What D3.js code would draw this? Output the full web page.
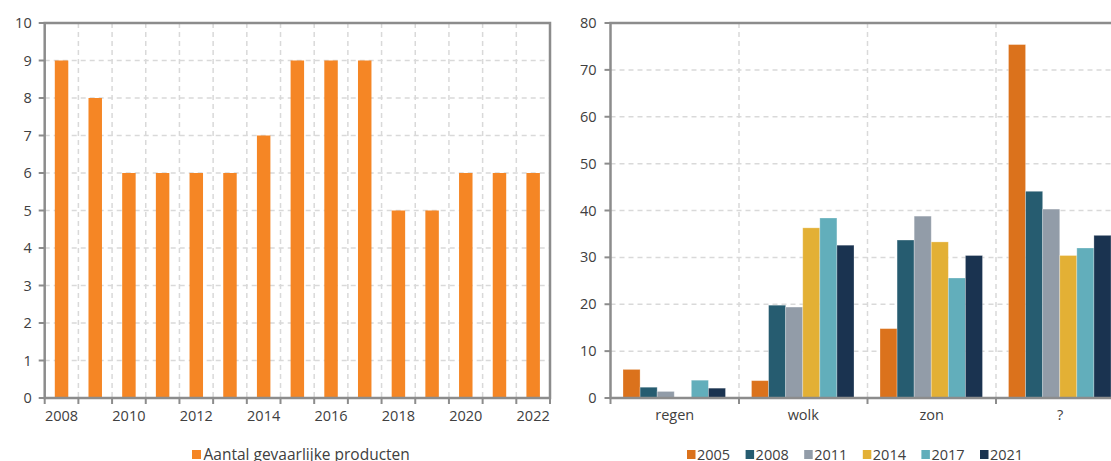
<!DOCTYPE html>
<html>
<head>
<meta charset="utf-8" />
<title>gevaarlijke producten</title>
<script src="https://cdn.jsdelivr.net/npm/d3@7"></script>
<style>
  html, body { margin: 0; padding: 0; background: #fff; }
  svg { display: block; font-family: "Open Sans", sans-serif; font-size: 14.5px; }
  .grid line { stroke: #d9d9d9; stroke-width: 1.5px; stroke-dasharray: 5,4; }
  .frame { fill: none; stroke: #8c8c8c; stroke-width: 2.5px; }
  .tick-mark { stroke: #8c8c8c; stroke-width: 2px; }
  text { fill: #404040; }
</style>
</head>
<body>
<svg id="chart" width="1111" height="461"></svg>
<script>
// left chart data
const years = [2008, 2009, 2010, 2011, 2012, 2013, 2014, 2015, 2016, 2017, 2018, 2019, 2020, 2021, 2022];
const counts = [9, 8, 6, 6, 6, 6, 7, 9, 9, 9, 5, 5, 6, 6, 6];
const leftTicks = [0, 1, 2, 3, 4, 5, 6, 7, 8, 9, 10];
const leftLegend = "Aantal gevaarlijke producten";

// right chart data
const categories = ["regen", "wolk", "zon", "?"];
const seriesNames = ["2005", "2008", "2011", "2014", "2017", "2021"];
const s2005 = [6.1, 3.7, 14.8, 75.4];
const s2008 = [2.3, 19.8, 33.7, 44.1];
const s2011 = [1.4, 19.4, 38.8, 40.3];
const s2014 = [0, 36.3, 33.3, 30.4];
const s2017 = [3.8, 38.4, 25.6, 32.0];
const s2021 = [2.1, 32.6, 30.4, 34.7];
const rightTicks = [0, 10, 20, 30, 40, 50, 60, 70, 80];
const seriesColors = ["#db721c", "#265c70", "#929ca8", "#e3b035", "#62aebb", "#1a3350"];

const svg = d3.select("#chart");
const yTop = 23, yBottom = 398;

// ---------- left chart ----------
const L = { x0: 44.7, x1: 550 };
const xL = d3.scaleBand().domain(years).range([L.x0, L.x1]).paddingInner(0.6).paddingOuter(0.3);
const yL = d3.scaleLinear().domain([0, 10]).range([yBottom, yTop]);
const gL = svg.append("g");

const gridL = gL.append("g").attr("class", "grid");
gridL.selectAll(".h").data(leftTicks.slice(1, -1)).enter().append("line")
  .attr("x1", L.x0).attr("x2", L.x1).attr("y1", d => yL(d)).attr("y2", d => yL(d));
gridL.selectAll(".v").data(years.slice(1)).enter().append("line")
  .attr("x1", d => xL(d) - xL.step() * 0.3).attr("x2", d => xL(d) - xL.step() * 0.3)
  .attr("y1", yTop).attr("y2", yBottom);

gL.selectAll(".bar").data(years).enter().append("rect")
  .attr("x", d => xL(d))
  .attr("width", xL.bandwidth())
  .attr("y", (d, i) => yL(counts[i]))
  .attr("height", (d, i) => yL(0) - yL(counts[i]))
  .attr("fill", "#f58625");

// y ticks
gL.selectAll(".yt").data(leftTicks).enter().append("line").attr("class", "tick-mark")
  .attr("x1", L.x0 - 6).attr("x2", L.x0).attr("y1", d => yL(d)).attr("y2", d => yL(d));
gL.selectAll(".yl").data(leftTicks).enter().append("text")
  .attr("x", L.x0 - 13).attr("y", d => yL(d)).attr("dy", "0.35em")
  .attr("text-anchor", "end").text(d => d);
// x ticks at band boundaries
gL.selectAll(".xt").data(years.concat([null])).enter().append("line").attr("class", "tick-mark")
  .attr("x1", (d, i) => L.x0 + i * xL.step()).attr("x2", (d, i) => L.x0 + i * xL.step())
  .attr("y1", yBottom).attr("y2", yBottom + 6);
gL.selectAll(".xl").data(years.filter(y => y % 2 === 0)).enter().append("text")
  .attr("x", d => xL(d) + xL.bandwidth() / 2).attr("y", 420.5)
  .attr("text-anchor", "middle").text(d => d);

gL.append("rect").attr("class", "frame")
  .attr("x", L.x0).attr("y", yTop).attr("width", L.x1 - L.x0).attr("height", yBottom - yTop);

// legend
gL.append("rect").attr("x", 192).attr("y", 450).attr("width", 9).attr("height", 9).attr("fill", "#f58625");
gL.append("text").attr("x", 203.5).attr("y", 460).style("font-size", "15.5px").text(leftLegend);

// ---------- right chart ----------
const R = { x0: 610.5, x1: 1124.5 };
const series = [s2005, s2008, s2011, s2014, s2017, s2021];
const xR = d3.scaleBand().domain(categories).range([R.x0, R.x1]);
const xS = d3.scaleBand().domain(seriesNames).range([12.5, 115]);
const yR = d3.scaleLinear().domain([0, 80]).range([yBottom, yTop]);
const gR = svg.append("g");

const gridR = gR.append("g").attr("class", "grid");
gridR.selectAll(".h").data(rightTicks.slice(1, -1)).enter().append("line")
  .attr("x1", R.x0).attr("x2", R.x1).attr("y1", d => yR(d)).attr("y2", d => yR(d));
gridR.selectAll(".v").data(categories.slice(1)).enter().append("line")
  .attr("x1", d => xR(d)).attr("x2", d => xR(d)).attr("y1", yTop).attr("y2", yBottom);

const groups = gR.selectAll(".cat").data(categories).enter().append("g")
  .attr("transform", d => `translate(${xR(d)},0)`);
groups.selectAll("rect").data((c, ci) => seriesNames.map((s, si) => ({ s, si, v: series[si][ci] })))
  .enter().append("rect")
  .attr("x", d => xS(d.s))
  .attr("width", xS.bandwidth())
  .attr("y", d => yR(d.v))
  .attr("height", d => yR(0) - yR(d.v))
  .attr("fill", d => seriesColors[d.si])
  .attr("stroke", "#ffffff").attr("stroke-opacity", 0.35).attr("stroke-width", 0.8);

gR.selectAll(".yt").data(rightTicks).enter().append("line").attr("class", "tick-mark")
  .attr("x1", R.x0 - 6).attr("x2", R.x0).attr("y1", d => yR(d)).attr("y2", d => yR(d));
gR.selectAll(".yl").data(rightTicks).enter().append("text")
  .attr("x", R.x0 - 14).attr("y", d => yR(d)).attr("dy", "0.35em")
  .attr("text-anchor", "end").text(d => d);
gR.selectAll(".xt").data(categories).enter().append("line").attr("class", "tick-mark")
  .attr("x1", d => xR(d)).attr("x2", d => xR(d)).attr("y1", yBottom).attr("y2", yBottom + 6);
gR.selectAll(".xl").data(categories).enter().append("text")
  .attr("x", d => xR(d) + xR.bandwidth() / 2).attr("y", 420)
  .attr("text-anchor", "middle").text(d => d);

gR.append("path").attr("class", "frame")
  .attr("d", `M${R.x1},${yTop}H${R.x0}V${yBottom}H${R.x1}`);

// legend
const leg = gR.selectAll(".leg").data(seriesNames).enter().append("g")
  .attr("transform", (d, i) => `translate(${687 + i * 58.6},0)`);
leg.append("rect").attr("x", 0).attr("y", 450).attr("width", 8.5).attr("height", 9)
  .attr("fill", (d, i) => seriesColors[i]);
leg.append("text").attr("x", 10).attr("y", 460).text(d => d);
</script>
</body>
</html>
